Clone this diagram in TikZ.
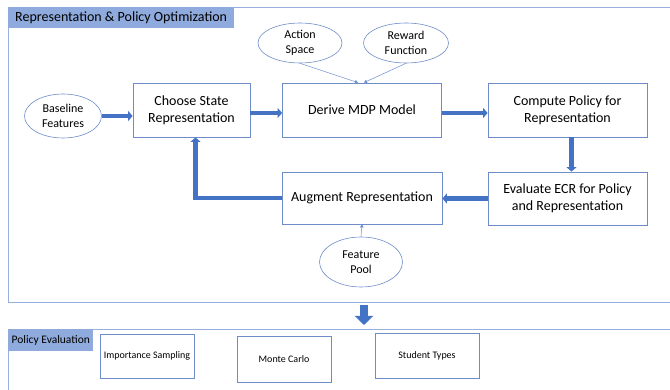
\documentclass[tikz,border=0pt]{standalone}
\usepackage{fontspec}
\setmainfont{Carlito}
\usetikzlibrary{arrows.meta,shapes.geometric}
\definecolor{framecol}{RGB}{150,175,220}
\definecolor{titlefill}{RGB}{143,170,220}
\definecolor{boxcol}{RGB}{110,140,200}
\definecolor{arrowcol}{RGB}{68,114,196}
\tikzset{
  stepbox/.style={draw=boxcol, line width=0.8pt, align=center,
    font=\fontsize{14}{17}\selectfont},
  evalbox/.style={draw=boxcol, line width=0.8pt, align=center,
    font=\fontsize{10}{12}\selectfont},
  inputell/.style={ellipse, draw=boxcol, line width=0.6pt, align=center,
    inner sep=0pt, font=\fontsize{12}{15}\selectfont},
  heading/.style={fill=titlefill, anchor=north west, inner ysep=0pt},
  thick arrow/.style={draw=arrowcol, line width=4.5pt,
    -{Triangle[length=4.5pt,width=10pt]}},
  thin arrow/.style={draw=arrowcol!80, line width=0.5pt,
    -{Triangle[length=3pt,width=3.5pt]}}
}
\begin{document}
\begin{tikzpicture}[x=1pt, y=-1pt]
      \useasboundingbox (0,0) rectangle (670,390);
      % frames
      \draw[framecol, line width=0.8pt] (670,7) -- (8,7) -- (8,302) -- (670,302);
      \draw[framecol, line width=0.8pt] (670,329) -- (8,329) -- (8,390);
      \node[heading, inner xsep=7pt, minimum height=21pt,
        font=\fontsize{14}{16}\selectfont] (opt) at (8,7)
        {Representation \& Policy Optimization};
      \node[heading, inner xsep=3.5pt, minimum height=22pt,
        font=\fontsize{11.5}{14}\selectfont] (peval) at (8,329)
        {Policy Evaluation};
      % optimization loop
      \node[stepbox, minimum width=117pt, minimum height=54pt] (choose) at (191.5,110)
        {Choose State\\Representation};
      \node[stepbox, minimum width=159pt, minimum height=54pt] (derive) at (362,110)
        {Derive MDP Model};
      \node[stepbox, minimum width=159pt, minimum height=54pt] (compute) at (567.5,110)
        {Compute Policy for\\Representation};
      \node[stepbox, minimum width=159pt, minimum height=53pt] (evaluate) at (567.5,198.5)
        {Evaluate ECR for Policy\\and Representation};
      \node[stepbox, minimum width=160pt, minimum height=52pt] (augment) at (362,198)
        {Augment Representation};
      \node[inputell, minimum width=77pt, minimum height=44pt] (baseline) at (63,116)
        {Baseline\\Features};
      \node[inputell, minimum width=84pt, minimum height=40pt] (action) at (300,43)
        {Action\\Space};
      \node[inputell, minimum width=85pt, minimum height=40pt] (reward) at (406,43)
        {Reward\\Function};
      \node[inputell, minimum width=83pt, minimum height=50pt] (pool) at (361,262)
        {Feature\\Pool};
      \begin{scope}[thick arrow]
        \draw (baseline.east) -- (baseline.east -| choose.west);
        \draw ([yshift=-3pt]choose.east) -- ([yshift=-3pt]derive.west);
        \draw ([yshift=-3pt]derive.east) -- ([yshift=-3pt]compute.west);
        \draw ([xshift=4pt]compute.south) -- ([xshift=4pt]evaluate.north);
        \draw (evaluate.west) -- (evaluate.west -| augment.east);
        \draw (augment.west) -| ([xshift=4pt]choose.south);
      \end{scope}
      \begin{scope}[thin arrow]
        \draw (action.south) -- ([xshift=-4pt]derive.north);
        \draw (reward.south) -- ([xshift=2pt]derive.north);
        \draw (pool.north) -- (augment.south);
      \end{scope}
      % hand-over to evaluation
      \coordinate (handtop) at (364,305);
      \coordinate (handbot) at (364,325);
      \draw[arrowcol, line width=8pt, -{Triangle[length=9pt,width=18pt]}] (handtop) -- (handbot);
      % evaluation methods
      \node[evalbox, minimum width=94pt, minimum height=44pt] (imp) at (147,356)
        {Importance Sampling};
      \node[evalbox, minimum width=94pt, minimum height=46pt] (monte) at (284,359)
        {Monte Carlo};
      \node[evalbox, minimum width=104pt, minimum height=45pt] (student) at (427,355.5)
        {Student Types};
    \end{tikzpicture}
\end{document}
